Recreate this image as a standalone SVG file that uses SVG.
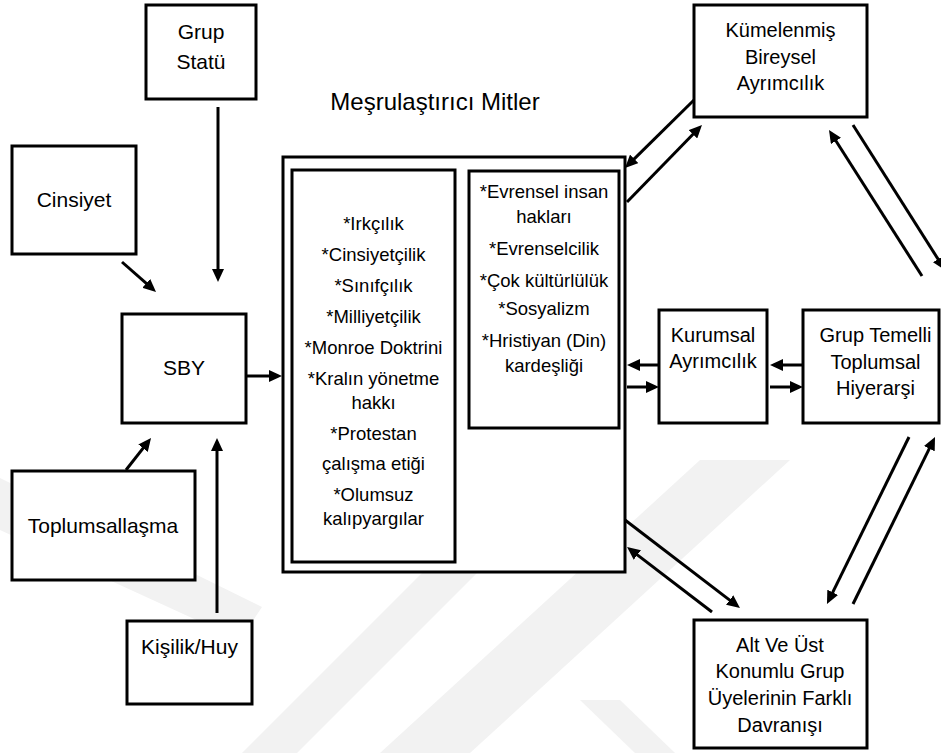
<svg xmlns="http://www.w3.org/2000/svg" width="941" height="753" viewBox="0 0 941 753">
  <style>
    .box { fill: #ffffff; stroke: #000000; stroke-width: 3; }
    .lbl { font-family: "Liberation Sans", Arial, sans-serif; font-size: 21px; fill: #000000; text-anchor: middle; }
    .lbl-r { font-family: "Liberation Sans", Arial, sans-serif; font-size: 20px; fill: #000000; text-anchor: middle; }
    .item { font-family: "Liberation Sans", Arial, sans-serif; font-size: 18.5px; fill: #000000; text-anchor: middle; }
    .title { font-family: "Liberation Sans", Arial, sans-serif; font-size: 24px; fill: #000000; text-anchor: middle; }
    .conn line { stroke: #000000; stroke-width: 3; fill: none; marker-end: url(#head); }
    .mark { fill: #f2f2f2; stroke: none; }
  </style>
  <defs>
    <marker id="head" markerUnits="userSpaceOnUse" viewBox="0 0 13 12" markerWidth="13" markerHeight="12" refX="5" refY="6" orient="auto">
      <path d="M0,0 L13,6 L0,12 z" fill="#000000"/>
    </marker>
  </defs>

  <rect width="941" height="753" fill="#ffffff"/>

  <!-- faint background emblem bands -->
  <g id="backdrop">
    <polygon class="mark" points="0,478 262,607 240,640 0,530"/>
    <polygon class="mark" points="425,570 480,570 297,753 242,753"/>
    <polygon class="mark" points="700,460 790,460 470,753 380,753"/>
    <polygon class="mark" points="580,700 620,700 675,753 635,753"/>
  </g>

  <!-- connectors -->
  <g id="connectors" class="conn">
    <line x1="218" y1="107" x2="218" y2="274"/>
    <line x1="122" y1="262" x2="150" y2="286.7"/>
    <line x1="246" y1="376" x2="274" y2="376"/>
    <line x1="126" y1="470" x2="146.1" y2="444.3"/>
    <line x1="217" y1="613" x2="217" y2="446"/>
    <line x1="694" y1="100" x2="630.7" y2="162.4"/>
    <line x1="627" y1="202" x2="696.4" y2="130.7"/>
    <line x1="853" y1="125" x2="940.7" y2="263.3"/>
    <line x1="922" y1="276" x2="833.3" y2="136.7"/>
    <line x1="659" y1="365" x2="635" y2="365"/>
    <line x1="627" y1="387" x2="651" y2="387"/>
    <line x1="803" y1="365" x2="778" y2="365"/>
    <line x1="770" y1="387" x2="795" y2="387"/>
    <line x1="625" y1="520" x2="733.6" y2="603.1"/>
    <line x1="712" y1="612" x2="633.4" y2="551.9"/>
    <line x1="909" y1="437" x2="830.5" y2="596.8"/>
    <line x1="853" y1="604" x2="931.5" y2="444.2"/>
  </g>

  <g id="grup-statu">
    <rect class="box" x="146" y="5" width="110" height="94"/>
    <text class="lbl" x="201" y="39">Grup</text>
    <text class="lbl" x="201" y="69">Statü</text>
  </g>

  <g id="cinsiyet">
    <rect class="box" x="12" y="146" width="124" height="108"/>
    <text class="lbl" x="74" y="207">Cinsiyet</text>
  </g>

  <g id="sby">
    <rect class="box" x="122" y="314" width="124" height="109"/>
    <text class="lbl" x="184" y="375">SBY</text>
  </g>

  <g id="toplumsallasma">
    <rect class="box" x="12" y="471" width="183" height="109"/>
    <text class="lbl" x="103" y="533">Toplumsallaşma</text>
  </g>

  <g id="kisilik">
    <rect class="box" x="127" y="621" width="125" height="83"/>
    <text class="lbl" x="189.5" y="654">Kişilik/Huy</text>
  </g>

  <g id="mesrulastirici-mitler">
    <text class="title" x="435" y="110">Meşrulaştırıcı Mitler</text>
    <rect class="box" x="283" y="157" width="342" height="415"/>
    <rect class="box" x="292" y="170" width="163" height="392"/>
    <text class="item" x="373.5" y="230">*Irkçılık</text>
    <text class="item" x="373.5" y="261">*Cinsiyetçilik</text>
    <text class="item" x="373.5" y="292">*Sınıfçılık</text>
    <text class="item" x="373.5" y="323">*Milliyetçilik</text>
    <text class="item" x="373.5" y="354">*Monroe Doktrini</text>
    <text class="item" x="373.5" y="385">*Kralın yönetme</text>
    <text class="item" x="373.5" y="409">hakkı</text>
    <text class="item" x="373.5" y="440">*Protestan</text>
    <text class="item" x="373.5" y="470">çalışma etiği</text>
    <text class="item" x="373.5" y="501">*Olumsuz</text>
    <text class="item" x="373.5" y="525">kalıpyargılar</text>
    <rect class="box" x="469" y="171" width="150" height="257"/>
    <text class="item" x="544" y="198">*Evrensel insan</text>
    <text class="item" x="544" y="223">hakları</text>
    <text class="item" x="544" y="255">*Evrenselcilik</text>
    <text class="item" x="544" y="287">*Çok kültürlülük</text>
    <text class="item" x="544" y="315">*Sosyalizm</text>
    <text class="item" x="544" y="347">*Hristiyan (Din)</text>
    <text class="item" x="544" y="372">kardeşliği</text>
  </g>

  <g id="kumelenmis">
    <rect class="box" x="694" y="5" width="173" height="112"/>
    <text class="lbl-r" x="780.5" y="37">Kümelenmiş</text>
    <text class="lbl-r" x="780.5" y="64">Bireysel</text>
    <text class="lbl-r" x="780.5" y="90">Ayrımcılık</text>
  </g>

  <g id="kurumsal">
    <rect class="box" x="659" y="310" width="108" height="113"/>
    <text class="lbl-r" x="713" y="342">Kurumsal</text>
    <text class="lbl-r" x="713" y="368">Ayrımcılık</text>
  </g>

  <g id="grup-temelli">
    <rect class="box" x="803" y="310" width="136" height="113"/>
    <text class="lbl-r" x="875.5" y="342">Grup Temelli</text>
    <text class="lbl-r" x="875.5" y="369">Toplumsal</text>
    <text class="lbl-r" x="875.5" y="395">Hiyerarşi</text>
  </g>

  <g id="alt-ust">
    <rect class="box" x="694" y="620" width="173" height="128"/>
    <text class="lbl-r" x="780" y="652">Alt Ve Üst</text>
    <text class="lbl-r" x="780" y="678">Konumlu Grup</text>
    <text class="lbl-r" x="780" y="705">Üyelerinin Farklı</text>
    <text class="lbl-r" x="780" y="732">Davranışı</text>
  </g>
</svg>
